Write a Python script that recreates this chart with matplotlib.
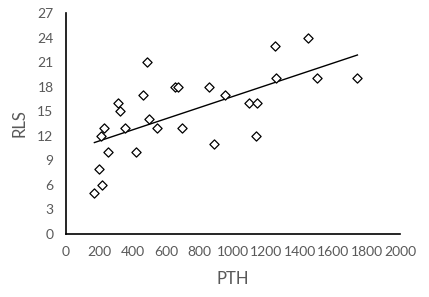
import matplotlib.pyplot as plt
import numpy as np

# data
pth = [170, 213, 200, 211, 225, 249, 309, 321, 353, 417, 459, 483, 495, 543,
       651, 673, 693, 855, 889, 955, 1098, 1145, 1140, 1253, 1255, 1451, 1505, 1745]
rls = [5, 6, 8, 12, 13, 10, 16, 15, 13, 10, 17, 21, 14, 13,
       18, 18, 13, 18, 11, 17, 16, 16, 12, 23, 19, 24, 19, 19]
xticks = np.arange(0, 2001, 200)
yticks = np.arange(0, 28, 3)

plt.rcParams["font.family"] = ["Lato", "DejaVu Sans"]

x = np.array(pth)
y = np.array(rls)
slope, intercept = np.polyfit(x, y, 1)

fig = plt.figure(figsize=(4.29, 2.97), dpi=100)
ax = fig.add_axes([66 / 429, 63 / 297, 334 / 429, 221 / 297])

ax.scatter(x, y, marker="D", s=22, facecolors="white", edgecolors="black", linewidths=0.9, zorder=3)
xs = np.array([x.min(), x.max()])
ax.plot(xs, slope * xs + intercept, color="black", linewidth=1)

ax.set_xlim(0, 2000)
ax.set_ylim(0, 27)
ax.set_xticks(xticks)
ax.set_yticks(yticks)
ax.tick_params(length=0, labelsize=10, labelcolor="#595959", pad=9)
for s in ["top", "right"]:
    ax.spines[s].set_visible(False)
for s in ["left", "bottom"]:
    ax.spines[s].set_color("black")
    ax.spines[s].set_linewidth(1.2)

ax.set_xlabel("PTH", fontsize=12, color="#595959", labelpad=9)
ax.set_ylabel("RLS", fontsize=12, color="#595959", labelpad=7)

fig.savefig("out.png", dpi=100)
